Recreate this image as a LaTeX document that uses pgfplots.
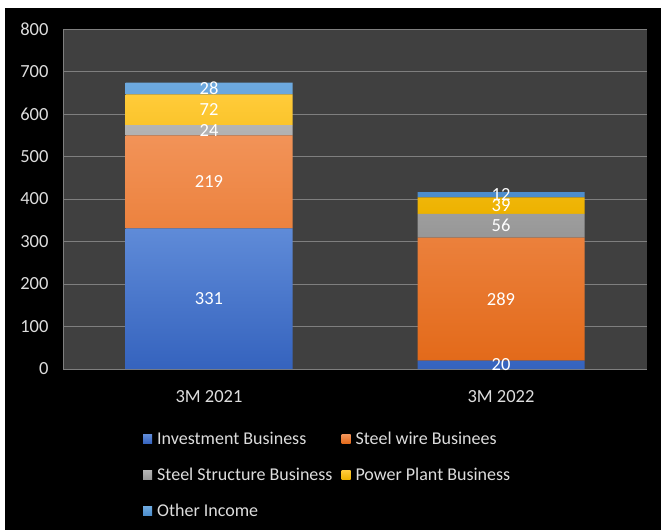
\documentclass[border=0pt]{standalone}
\usepackage{pgfplots}
\pgfplotsset{compat=1.18}
\usepackage{fontspec}
\setmainfont{Carlito}
\definecolor{plotbg}{HTML}{404040}
\definecolor{gridc}{HTML}{7F7F7F}
\definecolor{txt}{HTML}{DDDDDD}
\definecolor{invT}{HTML}{5F8BD8}\definecolor{invB}{HTML}{3563BE}
\definecolor{wirT}{HTML}{F29358}\definecolor{wirB}{HTML}{E36A1A}
\definecolor{strT}{HTML}{B4B4B4}\definecolor{strB}{HTML}{979797}
\definecolor{powT}{HTML}{FFCB3A}\definecolor{powB}{HTML}{EDB200}
\definecolor{othT}{HTML}{6DA9DF}\definecolor{othB}{HTML}{4C8CCB}
\pgfplotstableread{
x inv wire str pow oth
0 331 219 24 72 28
1 20 289 56 39 12
}\datatab
\pgfplotstableread{
x y label
0 165.5 331
0 440.5 219
0 562 24
0 610 72
0 660 28
1 10 20
1 164.5 289
1 337 56
1 384.5 39
1 410 12
}\labtab
\pgfplotsset{
  sq/.style={legend image code/.code={\fill[##1] (0pt,-4.5pt) rectangle (9pt,4.5pt);}},
  common/.style={at={(63pt,161pt)}, anchor=south west,
    scale only axis, width=584pt, height=340pt,
    xmin=-0.5, xmax=1.5, ymin=0, ymax=800}
}
\begin{document}
\begin{tikzpicture}[x=1pt,y=1pt]
\fill[white] (0,0) rectangle (661,530);
\fill[black] (5,0) rectangle (661,522);
\path[use as bounding box] (0,0) rectangle (661,530);
\begin{axis}[common,
  ybar stacked, bar width=167pt,
  axis background/.style={fill=plotbg},
  axis x line*=bottom, axis y line*=left,
  axis line style={draw=gridc, line width=0.8pt},
  major tick length=0pt,
  ymajorgrids, grid style={draw=gridc, line width=0.8pt},
  ytick={0,100,...,800},
  xtick={0,1}, xticklabels={3M 2021,3M 2022},
  /pgf/number format/assume math mode=true,
  tick label style={font=\fontsize{18.5}{21}\selectfont, text=txt},
  yticklabel style={xshift=-11pt},
  xticklabel style={yshift=-18pt},
  legend columns=2, legend cell align=left,
  legend style={at={(0.137,-0.17)}, anchor=north west, draw=none, fill=none,
    text=txt, font=\fontsize{18}{21}\selectfont, inner sep=0pt,
    row sep=12pt, nodes={inner sep=5pt},
    /tikz/every even column/.append style={column sep=4pt}},
]
\addplot[sq, draw=none, top color=invT, bottom color=invB] table[x=x,y=inv]{\datatab};
\addlegendentry{Investment Business}
\addplot[sq, draw=none, top color=wirT, bottom color=wirB] table[x=x,y=wire]{\datatab};
\addlegendentry{Steel wire Businees}
\addplot[sq, draw=none, top color=strT, bottom color=strB] table[x=x,y=str]{\datatab};
\addlegendentry{Steel Structure Business}
\addplot[sq, draw=none, top color=powT, bottom color=powB] table[x=x,y=pow]{\datatab};
\addlegendentry{Power Plant Business}
\addplot[sq, draw=none, top color=othT, bottom color=othB] table[x=x,y=oth]{\datatab};
\addlegendentry{Other Income}
\end{axis}
\begin{axis}[common, hide axis]
\addplot[only marks, mark=none, nodes near coords, point meta=explicit symbolic,
  nodes near coords align=center,
  every node near coord/.append style={anchor=center, text=white, font=\fontsize{18.5}{21}\selectfont}]
  table[x=x,y=y,meta=label]{\labtab};
\end{axis}
\end{tikzpicture}
\end{document}
